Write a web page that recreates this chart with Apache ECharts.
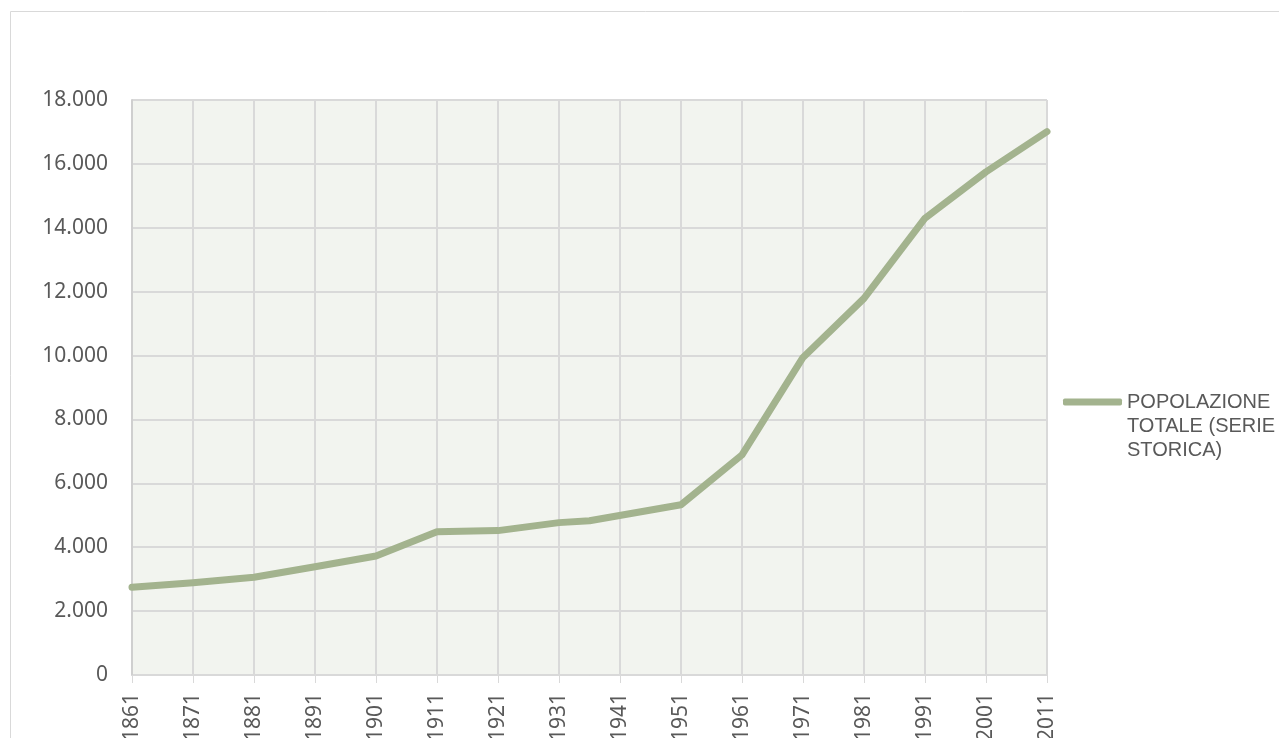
<!DOCTYPE html>
<html lang="it">
<head>
<meta charset="UTF-8">
<title>Popolazione totale</title>
<script src="https://cdn.jsdelivr.net/npm/echarts@6/dist/echarts.min.js"></script>
<style>
  html, body { margin: 0; padding: 0; background: #fff; }
  #container { width: 1279px; height: 738px; }
</style>
</head>
<body>
<div id="container"></div>
<script type="text/javascript">
// anni dei censimenti (1936 incluso, niente 1941)
var years = [1861, 1871, 1881, 1891, 1901, 1911, 1921, 1931, 1936, 1951, 1961, 1971, 1981, 1991, 2001, 2011];
var popolazione = [2750, 2890, 3060, 3390, 3725, 4487, 4520, 4770, 4830, 5330, 6890, 9940, 11790, 14300, 15750, 17010];
var seriesName = 'POPOLAZIONE TOTALE (SERIE STORICA)';

var textColor = '#595959';
var gridColor = '#d9d9d9';
var lineColor = '#a3b38e';

var points = [];
for (var i = 0; i < years.length; i++) {
  points.push([years[i], popolazione[i]]);
}

var myChart = echarts.init(document.getElementById('container'));

var option = {
  animation: false,
  graphic: [
    { // cornice esterna
      type: 'rect',
      shape: { x: 10.5, y: 11.5, width: 1400, height: 900 },
      style: { fill: 'none', stroke: gridColor, lineWidth: 1 },
      silent: true
    }
  ],
  grid: {
    left: 132,
    right: 232,
    top: 100,
    bottom: 63,
    outerBoundsMode: 'none',
    show: true,
    backgroundColor: '#f2f4ef',
    borderColor: gridColor,
    borderWidth: 1
  },
  legend: {
    left: 1058,
    top: 337,
    orient: 'vertical',
    icon: 'roundRect',
    itemWidth: 59,
    itemHeight: 7,
    itemGap: 0,
    // righe vuote sopra per allineare la linea alla prima riga del testo
    formatter: function () { return '\n\nPOPOLAZIONE\nTOTALE (SERIE\nSTORICA)'; },
    textStyle: {
      color: textColor,
      fontFamily: 'Liberation Sans, Arial, sans-serif',
      fontSize: 20,
      lineHeight: 24
    }
  },
  xAxis: {
    type: 'value',
    min: 1861,
    max: 2011,
    interval: 10,
    axisLine: { show: true, lineStyle: { color: gridColor, width: 1 } },
    axisTick: { show: true, length: 8, lineStyle: { color: gridColor } },
    splitLine: { show: true, lineStyle: { color: gridColor, width: 2 } },
    axisLabel: {
      rotate: 90,
      margin: 18,
      color: textColor,
      fontFamily: 'Noto Sans, sans-serif',
      fontSize: 21,
      formatter: function (v) { return String(v); }
    }
  },
  yAxis: {
    type: 'value',
    min: 0,
    max: 18000,
    interval: 2000,
    axisLine: { show: true, lineStyle: { color: '#cfcfcf', width: 2 } },
    axisTick: { show: false },
    splitLine: { show: true, lineStyle: { color: gridColor, width: 2 } },
    axisLabel: {
      margin: 24,
      color: textColor,
      fontFamily: 'Noto Sans, sans-serif',
      fontSize: 21,
      formatter: function (v) {
        return v === 0 ? '0' : String(v).replace(/\B(?=(\d{3})+(?!\d))/g, '.');
      }
    }
  },
  series: [
    {
      name: seriesName,
      type: 'line',
      data: points,
      symbol: 'none',
      lineStyle: { color: lineColor, width: 7, cap: 'round', join: 'round' },
      itemStyle: { color: lineColor }
    }
  ]
};

myChart.setOption(option);
</script>
</body>
</html>
